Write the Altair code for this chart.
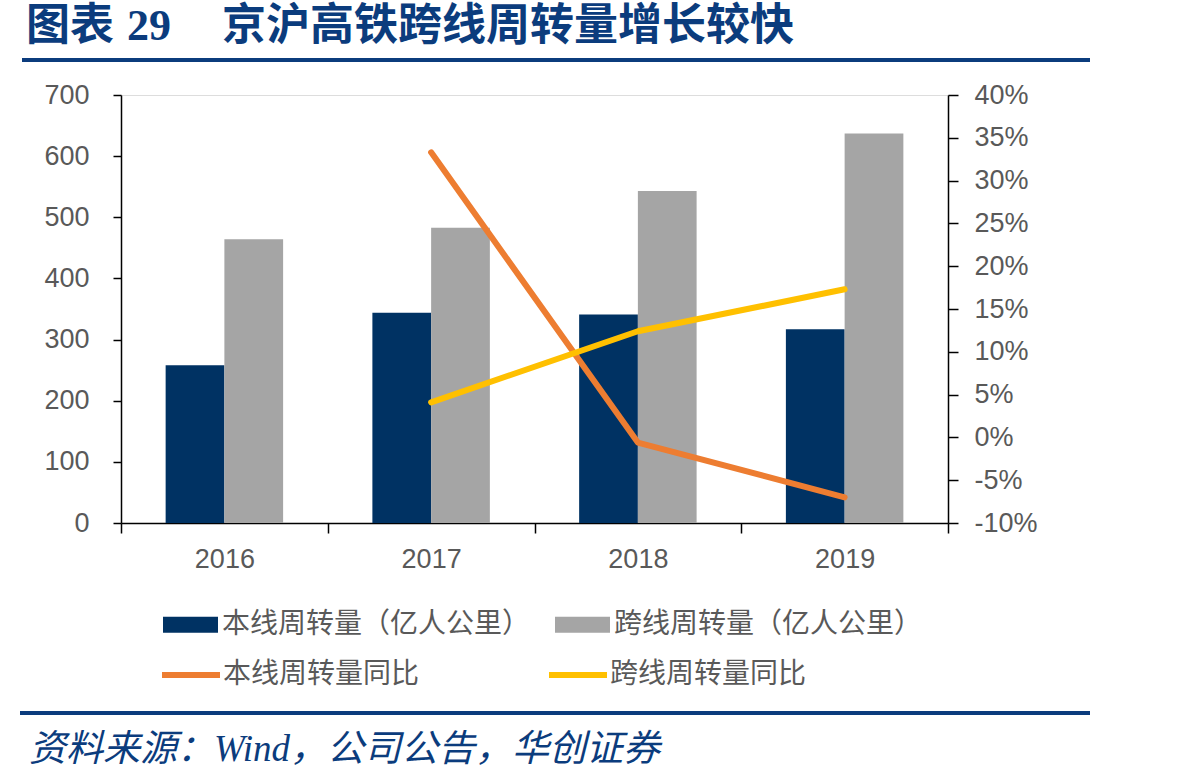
import altair as alt
import pandas as pd

# Passenger-km turnover on the Beijing–Shanghai HSR (100 million passenger-km)
years = ["2016", "2017", "2018", "2019"]
local_turnover = [258, 344, 341, 317]      # 本线周转量
cross_turnover = [464, 483, 543, 637]      # 跨线周转量

# Year-on-year growth (fraction), available from 2017
yoy_years = ["2017", "2018", "2019"]
local_yoy = [0.333, -0.006, -0.070]
cross_yoy = [0.041, 0.124, 0.173]

bar_names = ["本线周转量（亿人公里）", "跨线周转量（亿人公里）"]
line_names = ["本线周转量同比", "跨线周转量同比"]
bar_colors = ["#003263", "#A5A5A5"]
line_colors = ["#ED7D31", "#FFC000"]

left_ticks = [0, 100, 200, 300, 400, 500, 600, 700]
right_ticks = [-0.10, -0.05, 0.0, 0.05, 0.10, 0.15, 0.20, 0.25, 0.30, 0.35, 0.40]

title_label = "图表"
title_number = "29"
title_main = "京沪高铁跨线周转量增长较快"
source_note = "资料来源：Wind，公司公告，华创证券"

bars_df = pd.DataFrame(
    [{"year": y, "series": bar_names[0], "value": v} for y, v in zip(years, local_turnover)]
    + [{"year": y, "series": bar_names[1], "value": v} for y, v in zip(years, cross_turnover)]
)
lines_df = pd.DataFrame(
    [{"year": y, "series": line_names[0], "yoy": v} for y, v in zip(yoy_years, local_yoy)]
    + [{"year": y, "series": line_names[1], "yoy": v} for y, v in zip(yoy_years, cross_yoy)]
)

AXIS_FONT = "Liberation Sans, Arial, sans-serif"
CJK_FONT = "'Noto Sans CJK SC', sans-serif"
SERIF_CJK = "'Liberation Serif', 'Noto Sans CJK SC', serif"
LABEL_GREY = "#595959"
NAVY = "#0B3C7D"

x_enc = alt.X(
    "year:N",
    sort=years,
    scale=alt.Scale(domain=years, paddingInner=0, paddingOuter=0),
    axis=alt.Axis(
        title=None, labelAngle=0, tickBand="extent", labelFont=AXIS_FONT,
        labelFontSize=27, labelColor=LABEL_GREY, labelPadding=13,
        tickSize=10, tickColor="black", tickWidth=1.5,
        domainColor="black", domainWidth=1.5,
    ),
)

bars = alt.Chart(bars_df).mark_bar().encode(
    x=x_enc,
    xOffset=alt.XOffset("series:N", sort=bar_names,
                        scale=alt.Scale(domain=bar_names, paddingInner=0, paddingOuter=0.76)),
    y=alt.Y(
        "value:Q",
        scale=alt.Scale(domain=[0, 700], nice=False),
        axis=alt.Axis(
            title=None, values=left_ticks, grid=False, labelFont=AXIS_FONT,
            labelFontSize=27, labelColor=LABEL_GREY, labelPadding=24,
            tickSize=8, tickColor="black", tickWidth=1.5,
            domainColor="black", domainWidth=1.5,
        ),
    ),
    color=alt.Color(
        "series:N", sort=bar_names,
        scale=alt.Scale(domain=bar_names, range=bar_colors),
        legend=alt.Legend(
            title=None, orient="none", legendX=42, legendY=502, direction="horizontal",
            columns=2, columnPadding=24, padding=0,
            symbolType="M-1,-0.29H1V0.29H-1Z", symbolSize=3025, symbolStrokeWidth=0,
            labelFont=CJK_FONT, labelFontSize=28, labelColor=LABEL_GREY,
            labelOffset=4, labelLimit=400,
        ),
    ),
)

lines = alt.Chart(lines_df).mark_line(strokeWidth=6, strokeCap="round", strokeJoin="round").encode(
    x=alt.X("year:N", sort=years),
    y=alt.Y(
        "yoy:Q",
        scale=alt.Scale(domain=[-0.10, 0.40], nice=False),
        axis=alt.Axis(
            title=None, orient="right", values=right_ticks, grid=False,
            labelExpr="round(datum.value * 100) + '%'",
            labelFont=AXIS_FONT, labelFontSize=27, labelColor=LABEL_GREY,
            labelPadding=16, tickSize=10, tickColor="black", tickWidth=1.5,
            domainColor="black", domainWidth=1.5,
        ),
    ),
    color=alt.Color(
        "series:N", sort=line_names,
        scale=alt.Scale(domain=line_names, range=line_colors),
        legend=alt.Legend(
            title=None, orient="none", legendX=38, legendY=548, direction="horizontal",
            columns=2, columnPadding=117, padding=0,
            symbolType="stroke", symbolSize=3364, symbolStrokeWidth=6,
            labelFont=CJK_FONT, labelFontSize=28, labelColor=LABEL_GREY,
            labelOffset=0, labelLimit=400,
        ),
    ),
)

# Header, footer and separator rules drawn around the plot area
deco = pd.DataFrame([{"k": 0}])


def header_text(txt, xpos, size=44):
    return alt.Chart(deco).mark_text(
        text=txt, font=SERIF_CJK, fontSize=size, fontWeight="bold",
        color=NAVY, align="left", baseline="middle",
    ).encode(x=alt.value(xpos), y=alt.value(-68))


head_label = header_text(title_label, -95)
head_number = header_text(title_number, 6)
head_main = header_text(title_main, 101)

top_rule = alt.Chart(deco).mark_rule(color=NAVY, strokeWidth=4).encode(
    x=alt.value(-99), x2=alt.value(969), y=alt.value(-35)
)
bottom_rule = alt.Chart(deco).mark_rule(color=NAVY, strokeWidth=4).encode(
    x=alt.value(-101), x2=alt.value(969), y=alt.value(618)
)
footer = alt.Chart(deco).mark_text(
    text=source_note, font=SERIF_CJK, fontSize=37, fontStyle="italic",
    color=NAVY, align="left", baseline="middle",
).encode(x=alt.value(-92), y=alt.value(655))

chart = (
    alt.layer(bars, lines, head_label, head_number, head_main, top_rule, bottom_rule, footer)
    .resolve_scale(y="independent", color="independent")
    .properties(
        width=827, height=428,
        autosize=alt.AutoSizeParams(type="none"),
        padding={"left": 121, "top": 95, "right": 250, "bottom": 259},
    )
    .configure_view(stroke=None)
    .configure(background="white")
)

chart.save("out.html", embed_options={"renderer": "svg", "actions": False})
